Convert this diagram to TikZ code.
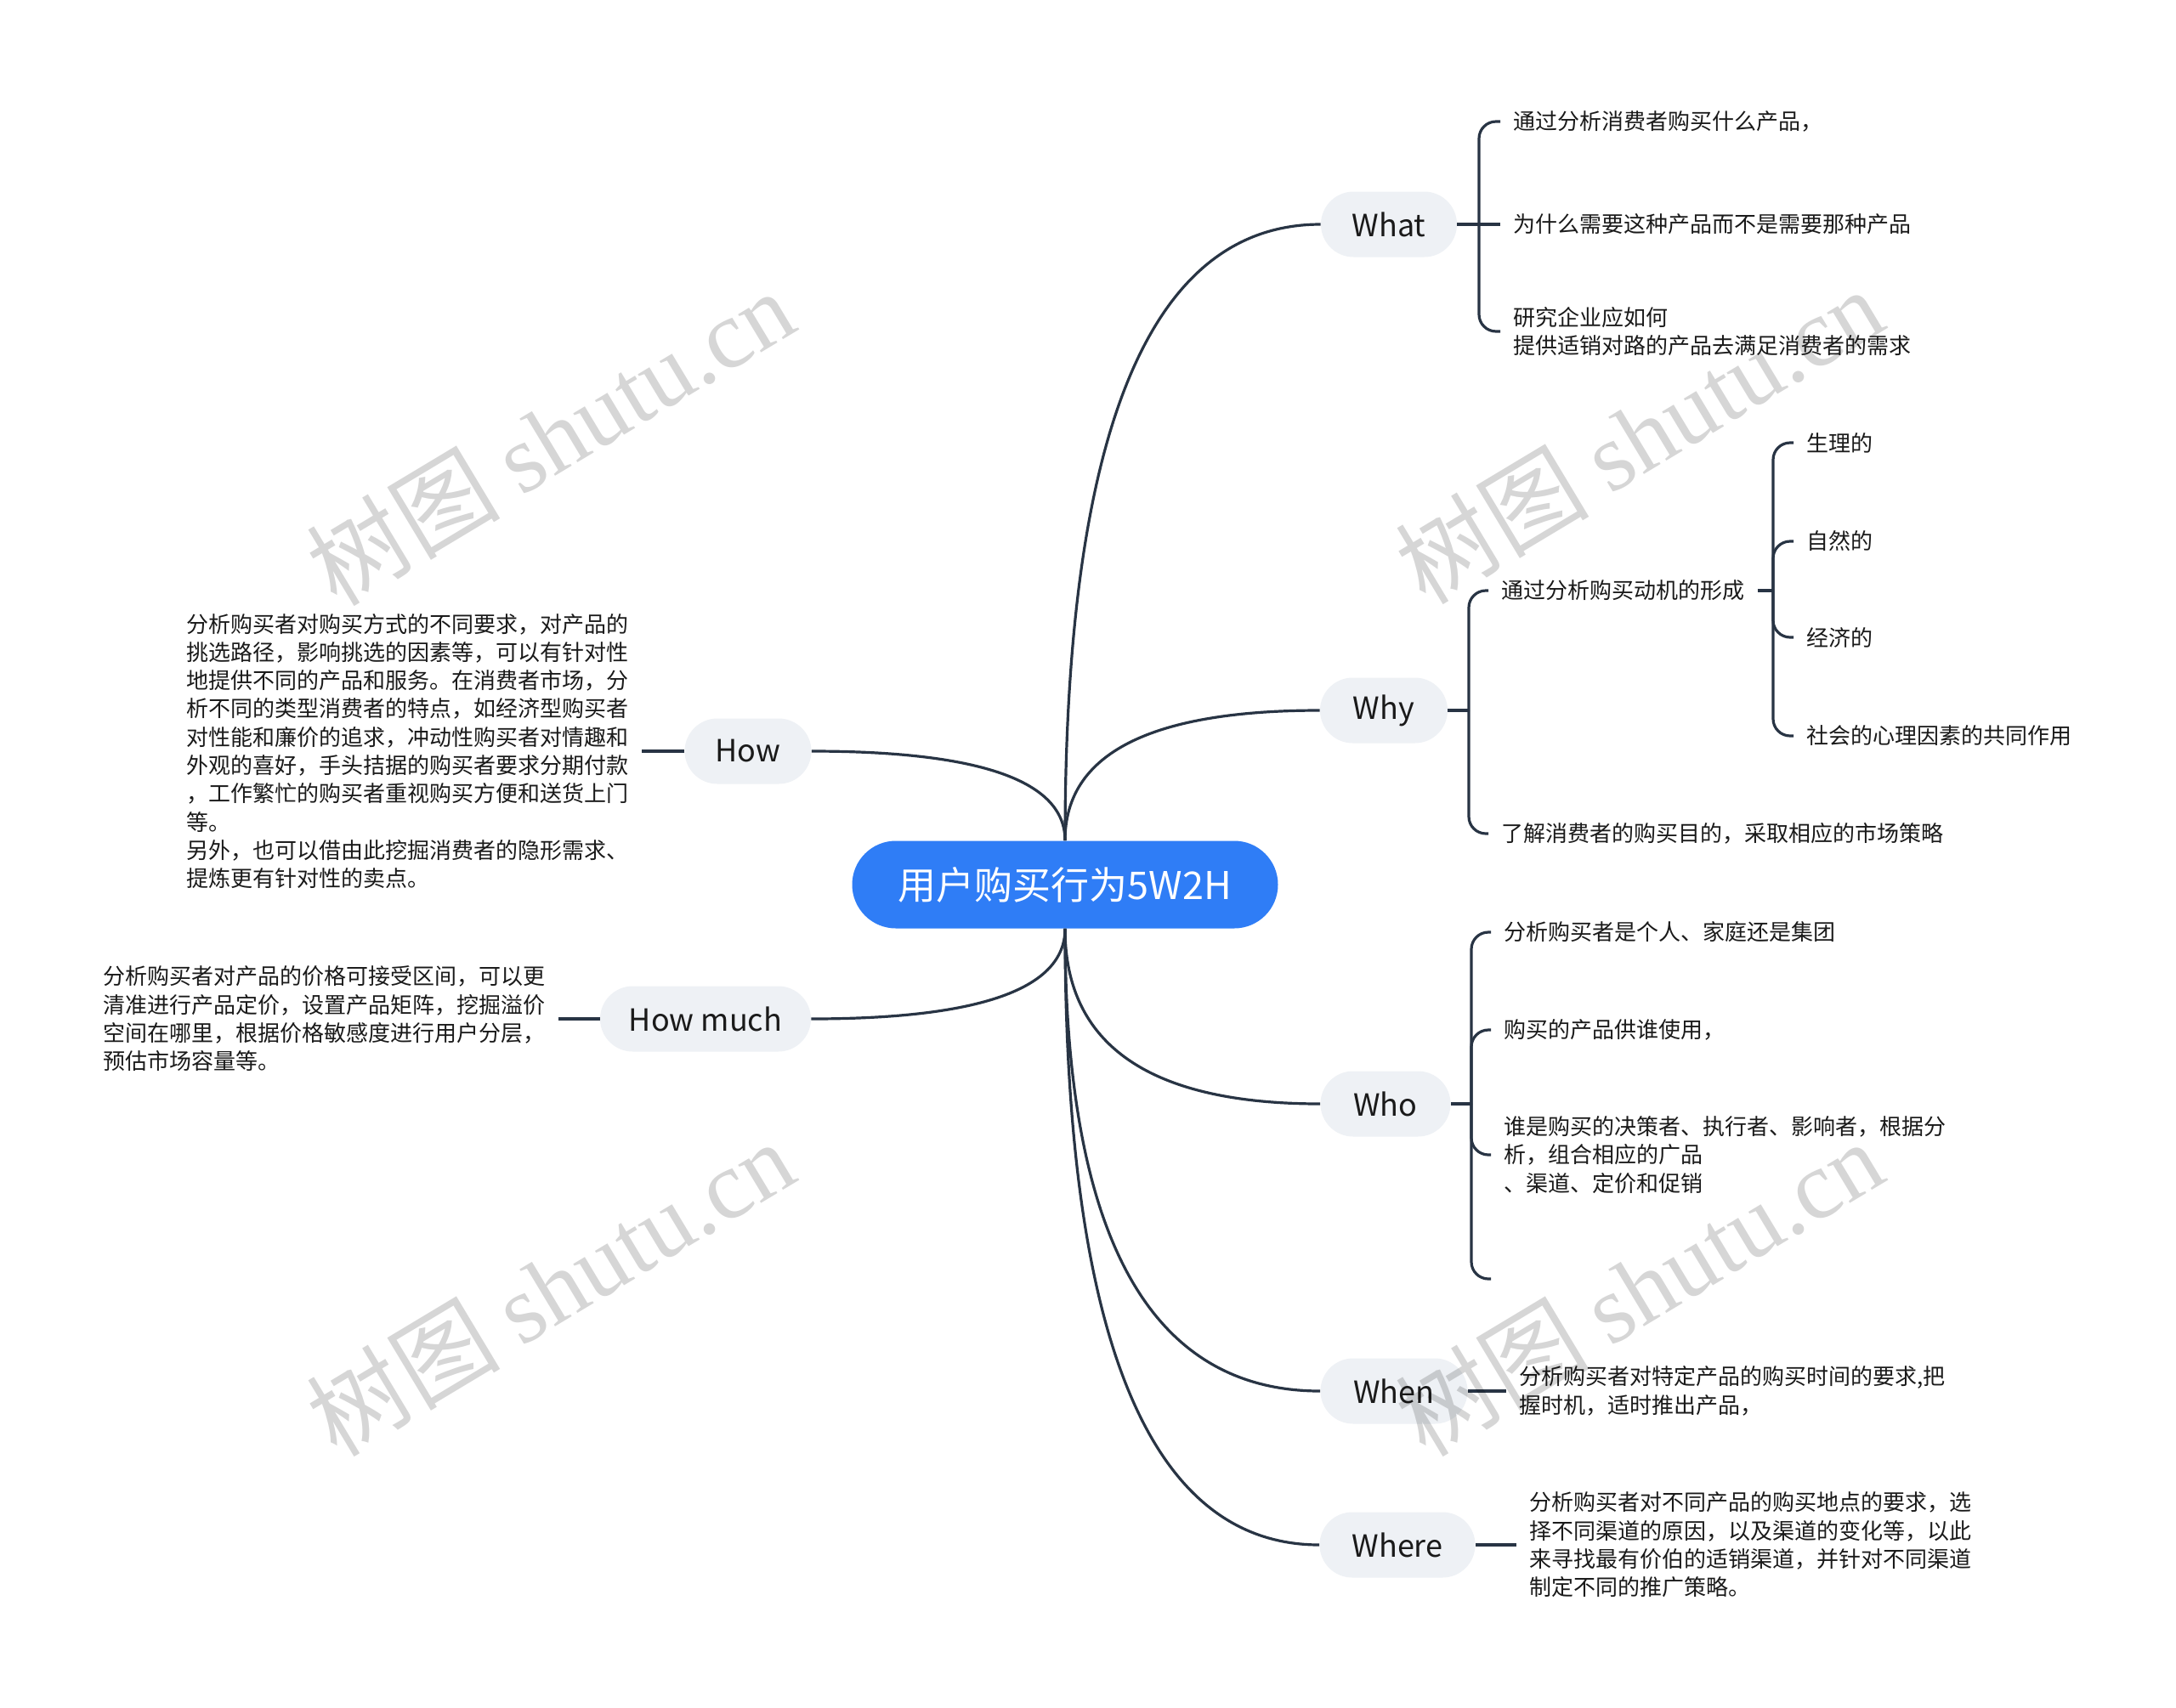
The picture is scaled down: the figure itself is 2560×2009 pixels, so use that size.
\documentclass[tikz,border=0pt]{standalone}
\usepackage{fontspec}
\setmainfont{Noto Sans CJK SC}
\newfontfamily\wmserif{Liberation Serif}
\usetikzlibrary{calc}
\definecolor{cblue}{RGB}{47,125,246}
\definecolor{bfill}{RGB}{238,241,245}
\definecolor{lcol}{RGB}{40,52,68}
\definecolor{tcol}{RGB}{26,26,26}
\tikzset{
 rootnode/.style={fill=cblue, text=white, rounded corners=25.75pt, minimum height=51.5pt, minimum width=250.5pt, inner sep=0pt, font=\fontsize{22.5pt}{26pt}\selectfont},
 bnode/.style={fill=bfill, text=tcol, rounded corners=19.25pt, minimum height=38.5pt, inner sep=0pt, font=\fontsize{18pt}{22pt}\selectfont},
 leafnode/.style={text=tcol, inner xsep=7.5pt, inner ysep=2pt, align=left, font=\fontsize{13pt}{16.65pt}\selectfont},
 lw/.style={leafnode, anchor=west},
 le/.style={leafnode, anchor=east},
 conn/.style={draw=lcol, line width=1.6pt},
 bracketline/.style={conn, rounded corners=10pt},
 wmark/.style={text=black, text opacity=0.16, rotate=31, inner sep=0pt, font=\fontsize{57pt}{57pt}\selectfont}
}
\begin{document}
\begin{tikzpicture}[x=0.5pt,y=-0.5pt]
\useasboundingbox (0,0) rectangle (2560,2009);
\fill[white] (0,0) rectangle (2560,2009);

% main nodes
\node[rootnode] (c) at (1253,1041) {用户购买行为5W2H};
\node[bnode, minimum width=80pt] (what) at (1634,264) {What};
\node[bnode, minimum width=75pt] (why) at (1628,836) {Why};
\node[bnode, minimum width=76.5pt] (who) at (1630,1299) {Who};
\node[bnode, minimum width=86.5pt] (when) at (1640,1637) {When};
\node[bnode, minimum width=91.5pt] (where) at (1644,1818) {Where};
\node[bnode, minimum width=74.5pt] (how) at (880,884) {How};
\node[bnode, minimum width=124pt] (howmuch) at (830,1199) {How much};

% curved connectors from the root (quadratic shape)
\coordinate (ct) at (c.north);
\coordinate (cb) at (c.south);
\coordinate (k1) at (ct |- what.west);
\coordinate (k2) at (ct |- why.west);
\coordinate (k3) at (cb |- who.west);
\coordinate (k4) at (cb |- when.west);
\coordinate (k5) at (cb |- where.west);
\coordinate (k6) at (ct |- how.east);
\coordinate (k7) at (cb |- howmuch.east);
\draw[conn] (ct) .. controls ($(ct)!0.6667!(k1)$) and ($(what.west)!0.6667!(k1)$) .. (what.west);
\draw[conn] (ct) .. controls ($(ct)!0.6667!(k2)$) and ($(why.west)!0.6667!(k2)$) .. (why.west);
\draw[conn] (cb) .. controls ($(cb)!0.6667!(k3)$) and ($(who.west)!0.6667!(k3)$) .. (who.west);
\draw[conn] (cb) .. controls ($(cb)!0.6667!(k4)$) and ($(when.west)!0.6667!(k4)$) .. (when.west);
\draw[conn] (cb) .. controls ($(cb)!0.6667!(k5)$) and ($(where.west)!0.6667!(k5)$) .. (where.west);
\draw[conn] (ct) .. controls ($(ct)!0.6667!(k6)$) and ($(how.east)!0.6667!(k6)$) .. (how.east);
\draw[conn] (cb) .. controls ($(cb)!0.6667!(k7)$) and ($(howmuch.east)!0.6667!(k7)$) .. (howmuch.east);

% What
\node[lw] (wa1) at (1765,143) {通过分析消费者购买什么产品，};
\node[lw] (wa2) at (1765,264) {为什么需要这种产品而不是需要那种产品};
\node[lw] (wa3) at (1765,390) {研究企业应如何\\提供适销对路的产品去满足消费者的需求};
\coordinate (wab) at (1740,264);
\draw[conn] (what.east) -- (wab);
\draw[bracketline] (wab) |- (wa1.west);
\draw[conn] (wab) -- (wa2.west);
\draw[bracketline] (wab) |- (wa3.west);

% Why
\node[lw] (wy1) at (1751,695) {通过分析购买动机的形成};
\node[lw] (wy2) at (1751,981) {了解消费者的购买目的，采取相应的市场策略};
\coordinate (wyb) at (1728,836);
\draw[conn] (why.east) -- (wyb);
\draw[bracketline] (wyb) |- (wy1.west);
\draw[bracketline] (wyb) |- (wy2.west);
\node[lw] (g1) at (2110,521) {生理的};
\node[lw] (g2) at (2110,637) {自然的};
\node[lw] (g3) at (2110,750) {经济的};
\node[lw] (g4) at (2110,866) {社会的心理因素的共同作用};
\coordinate (gb) at (2086,695);
\draw[conn] (wy1.east) -- (gb);
\draw[bracketline] (gb) |- (g1.west);
\draw[bracketline] (gb) |- (g2.west);
\draw[bracketline] (gb) |- (g3.west);
\draw[bracketline] (gb) |- (g4.west);

% Who
\node[lw] (wo1) at (1754,1097) {分析购买者是个人、家庭还是集团};
\node[lw] (wo2) at (1754,1212) {购买的产品供谁使用，};
\node[lw] (wo3) at (1754,1359) {谁是购买的决策者、执行者、影响者，根据分\\析，组合相应的广品\\、渠道、定价和促销};
\coordinate (wo4) at (1754,1505);
\coordinate (wob) at (1731,1299);
\draw[conn] (who.east) -- (wob);
\draw[bracketline] (wob) |- (wo1.west);
\draw[bracketline] (wob) |- (wo2.west);
\draw[bracketline] (wob) |- (wo3.west);
\draw[bracketline] (wob) |- (wo4);

% When
\node[lw] (wn1) at (1772,1637) {分析购买者对特定产品的购买时间的要求,把\\握时机，适时推出产品，};
\draw[conn] (when.east) -- (wn1.west);

% Where
\node[lw] (wr1) at (1784,1818) {分析购买者对不同产品的购买地点的要求，选\\择不同渠道的原因，以及渠道的变化等，以此\\来寻找最有价伯的适销渠道，并针对不同渠道\\制定不同的推广策略。};
\draw[conn] (where.east) -- (wr1.west);

% How
\node[le] (hw1) at (755,884) {分析购买者对购买方式的不同要求，对产品的\\挑选路径，影响挑选的因素等，可以有针对性\\地提供不同的产品和服务。在消费者市场，分\\析不同的类型消费者的特点，如经济型购买者\\对性能和廉价的追求，冲动性购买者对情趣和\\外观的喜好，手头拮据的购买者要求分期付款\\，工作繁忙的购买者重视购买方便和送货上门\\等。\\另外，也可以借由此挖掘消费者的隐形需求、\\提炼更有针对性的卖点。};
\draw[conn] (how.west) -- (hw1.east);

% How much
\node[le] (hm1) at (657,1199) {分析购买者对产品的价格可接受区间，可以更\\清准进行产品定价，设置产品矩阵，挖掘溢价\\空间在哪里，根据价格敏感度进行用户分层，\\预估市场容量等。};
\draw[conn] (howmuch.west) -- (hm1.east);

% watermarks
\node[wmark] (wm1) at (647,514) {树图 {\wmserif shutu.cn}};
\node[wmark] (wm2) at (1928,512) {树图 {\wmserif shutu.cn}};
\node[wmark] (wm3) at (647,1515) {树图 {\wmserif shutu.cn}};
\node[wmark] (wm4) at (1928,1515) {树图 {\wmserif shutu.cn}};
\end{tikzpicture}
\end{document}
